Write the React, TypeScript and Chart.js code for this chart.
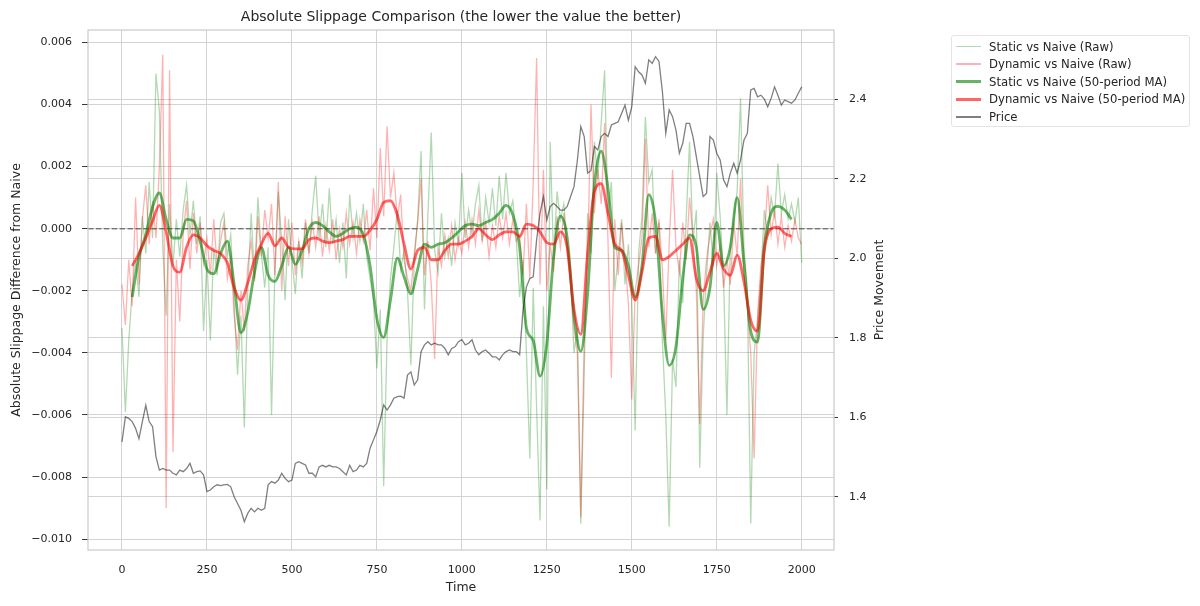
import { useEffect, useRef } from "react";
import { Chart, registerables, Plugin } from "chart.js";

Chart.register(...registerables);

// raw slippage differences, one value every 10 steps, in units of 1e-3
const RAW_STEP = 10;
const rawStatic = [
  -3.2, -5.9, -3.6, -2.0, -1.0, -2.2, 0.4, -0.8, 1.5, -0.3,
  5.0, 3.8, -0.6, -2.8, 0.8, -1.2, 0.3, -0.9, 0.6, 1.4,
  -0.2, 0.9, -0.5, 0.4, -3.3, -1.0, -3.6, -0.6, -1.5, 0.2,
  0.5, -0.9, -0.2, -2.4, -4.7, -2.8, -6.4, -2.0, 0.5, -1.6,
  1.0, -0.8, -1.9, -0.6, -6.0, -1.3, 1.2, -0.4, -2.3, 0.3,
  -1.0, -2.1, -0.4, -1.6, 0.2, -0.8, 0.6, 1.7, -0.3, 0.8,
  -0.6, 1.3, -0.5, 0.3, -1.1, 0.2, -1.6, 1.1, -0.3, 0.5,
  -0.4, 0.8, -0.9, -1.6, -2.3, -4.5, -2.6, -8.3, -3.5, -1.6,
  -0.6, 0.6, -1.3, -0.7, -2.0, -4.4, -1.0, 0.3, 2.5, -2.6,
  0.4, 3.1, -0.7, -1.4, 0.5, -0.9, -0.3, -1.2, 0.2, -0.5,
  1.8, -0.3, 0.6, -0.2, 0.8, 1.4, -0.4, 1.0, 0.2, 1.3,
  0.1, 1.7, 0.3, 1.8, 0.5, 0.9, -0.3, -2.2, -1.0, -4.0,
  -7.4, -1.9, -5.8, -9.4, -2.5, -8.4, 2.8, -1.0, 1.2, 0.3,
  0.8, -0.5, -1.5, -4.0, -3.2, -9.5, -4.7, 0.5, -0.8, 2.8,
  1.6, 3.4, 5.1, 0.4, 1.5, -2.0, -0.9, 0.3, -1.8, -0.5,
  -2.4, -6.5, -0.8, 0.4, 3.6, 1.5, 1.9, -0.8, 0.2, -3.6,
  -6.0, -9.6, -4.2, -5.1, -1.0, -2.4, 0.3, 2.8, -0.4, 0.6,
  -7.7, -3.5, -1.5, 0.2, -1.2, 1.8, 0.4, -1.6, -6.0, -0.5,
  0.3, 1.2, 4.2, -0.6, -2.0, -9.5, -4.0, -3.0, -1.5, 0.6,
  -0.2, 1.0, 0.4, 2.1, 0.5, 1.1, 0.3, 0.8, 0.2, 1.0,
  -1.1,
];
const rawDynamic = [
  -1.8, -3.1, -1.0, -2.5, 1.0, -1.8, 0.3, 1.4, -0.5, 0.9,
  -0.3, 2.0, 5.6, -9.0, 5.1, -7.2, -1.0, -3.0, -0.2, 0.9,
  -1.3, 0.5, -0.8, 0.2, -1.1, -0.3, -1.5, 0.3, -1.2, -0.4,
  0.2, -1.6, -0.9, -2.8, -3.9, -2.0, -3.3, -1.2, -0.4, -1.7,
  0.4, -0.9, 0.6, -0.3, 0.8, -1.5, 1.5, -2.0, 0.4, -1.2,
  0.2, -1.5, -0.4, -1.1, 0.3, -0.8, 0.2, -0.6, 0.4, -0.9,
  0.1, -0.7, 0.3, -1.0, 0.0, -0.6, 0.5, -0.5, 0.2, -0.8,
  0.3, -0.4, 0.6, -0.7, 1.3, -0.3, 2.6, 0.4, 3.3, 1.0,
  1.8, 0.3, 1.1, -1.0, -1.6, -2.0, -0.8, 0.2, 1.6, -1.5,
  -0.4, -1.8, -4.2, -0.6, -1.2, -0.2, -0.9, 0.1, -1.0, -0.3,
  -0.8, 0.2, -0.6, 0.3, -0.5, 0.6, -0.4, 0.2, -0.9, 0.1,
  -0.6, 0.4, -0.3, 0.5, -0.5, 0.3, -0.4, -0.2, -1.5, 0.8,
  -1.6, 1.5, 5.5, -1.8, 1.9, -2.0, -0.5, -1.4, 0.4, -0.6,
  0.5, -0.8, -1.8, -3.2, -4.0, -9.3, -3.5, -1.0, 4.0, 0.5,
  1.9, 0.8, 3.4, -0.4, -4.8, 0.3, -1.5, 0.2, -1.0, -2.4,
  -5.5, -2.0, -1.2, -0.3, 2.9, -0.6, 0.5, -0.8, 0.3, -1.3,
  -3.6, -0.5, 1.9, -0.6, -1.4, 0.2, -1.0, 1.0, -0.3, -2.0,
  -6.3, -2.3, -1.0, -0.2, 0.3, -1.2, -0.5, -1.9, -1.0, -1.8,
  0.2, -0.9, 1.6, -1.5, -2.5, -4.0, -7.4, -2.8, -1.2, -0.3,
  1.4, -0.2, 0.6, -0.5, 0.4, -0.6, 0.1, -0.4, 0.3, -0.3,
  -0.5,
];

// 50-period moving averages, read every 20 steps from t=30, units of 1e-3
const MA_START = 30;
const MA_STEP = 20;
const maStatic = [
  -2.2, -0.9, -0.2, 0.7, 1.15, 0.3, -0.3, -0.3, 0.3, 0.25,
  -0.4, -1.3, -1.45, -0.8, -0.4, -1.8, -3.35, -2.7, -1.4, -0.6,
  -1.5, -1.7, -1.2, -0.6, -1.15, -0.7, 0.0, 0.2, 0.1, -0.1,
  -0.25, -0.15, 0.0, 0.05, -0.2, -1.2, -2.9, -3.5, -2.3, -0.95,
  -1.55, -2.1, -1.3, -0.5, -0.6, -0.5, -0.45, -0.3, -0.1, 0.1,
  0.15, 0.1, 0.2, 0.3, 0.5, 0.75, 0.45, -0.6, -3.2, -3.6,
  -4.75, -3.7, -0.9, 0.4, -0.3, -2.8, -3.95, -2.1, 1.4, 2.5,
  1.3, -0.6, -0.7, -1.2, -2.2, -1.2, 1.1, 0.2, -2.75, -4.4,
  -3.8, -1.6, -0.2, -0.6, -2.6, -1.9, 0.2, -1.2, -0.6, 1.0,
  -1.1, -3.3, -3.65, -0.6, 0.5, 0.72, 0.6, 0.3,
];
const maDynamic = [
  -1.2, -0.8, -0.3, 0.25, 0.75, -0.1, -1.2, -1.4, -0.6, -0.2,
  -0.3, -0.55, -0.7, -0.8, -1.1, -1.9, -2.3, -1.75, -1.0, -0.5,
  -0.15, -0.55, -0.3, -0.6, -0.65, -0.65, -0.35, -0.3, -0.4, -0.45,
  -0.4, -0.35, -0.25, -0.25, -0.25, -0.05, 0.3, 0.85, 0.9, 0.45,
  -0.5, -1.3, -0.7, -0.6, -1.0, -1.0, -0.7, -0.5, -0.5, -0.4,
  -0.25, 0.0, -0.2, -0.35, -0.2, -0.1, -0.1, -0.25, 0.15, 0.1,
  -0.1, -0.45, -0.5, -0.1, -0.6, -2.6, -3.4, -0.8, 1.2, 1.45,
  0.5, -0.5, -0.7, -1.5, -2.3, -1.4, -0.3, -0.25, -1.0, -0.9,
  -0.7, -0.5, -0.3, -1.6, -2.0, -1.4, -0.8, -1.3, -1.5, -0.85,
  -1.7, -2.95, -3.3, -0.7, 0.0, 0.05, -0.15, -0.25,
];

// price, every 10 steps from t=0
const PRICE_STEP = 10;
const price = [
  1.538, 1.601, 1.597, 1.589, 1.572, 1.546, 1.589, 1.63, 1.589, 1.576,
  1.501, 1.467, 1.471, 1.467, 1.467, 1.459, 1.455, 1.467, 1.463, 1.471,
  1.484, 1.459, 1.463, 1.465, 1.455, 1.413, 1.417, 1.425, 1.43, 1.428,
  1.43, 1.431, 1.425, 1.4, 1.383, 1.366, 1.337, 1.358, 1.371, 1.362,
  1.371, 1.366, 1.371, 1.43, 1.438, 1.434, 1.442, 1.459, 1.446, 1.438,
  1.442, 1.484, 1.488, 1.484, 1.48, 1.459, 1.459, 1.45, 1.475, 1.479,
  1.475, 1.479, 1.475, 1.475, 1.471, 1.463, 1.455, 1.479, 1.463, 1.467,
  1.479, 1.475, 1.484, 1.522, 1.543, 1.564, 1.593, 1.631, 1.618, 1.631,
  1.648, 1.652, 1.653, 1.648, 1.706, 1.714, 1.681, 1.694, 1.765, 1.782,
  1.79, 1.782, 1.786, 1.782, 1.782, 1.773, 1.757, 1.773, 1.777, 1.79,
  1.795, 1.782, 1.786, 1.795, 1.769, 1.757, 1.765, 1.769, 1.761, 1.752,
  1.752, 1.744, 1.757, 1.765, 1.769, 1.765, 1.765, 1.757, 1.87, 1.928,
  1.949, 1.953, 2.046, 2.113, 2.155, 2.096, 2.13, 2.138, 2.13, 2.121,
  2.121, 2.13, 2.155, 2.18, 2.247, 2.331, 2.306, 2.214, 2.22, 2.281,
  2.272, 2.306, 2.314, 2.306, 2.335, 2.339, 2.343, 2.364, 2.385, 2.347,
  2.381, 2.482, 2.469, 2.461, 2.44, 2.499, 2.49, 2.507, 2.495, 2.42,
  2.314, 2.373, 2.356, 2.322, 2.264, 2.289, 2.339, 2.339, 2.306, 2.255,
  2.205, 2.155, 2.163, 2.306, 2.297, 2.264, 2.247, 2.197, 2.18, 2.214,
  2.239, 2.214, 2.247, 2.297, 2.314, 2.423, 2.427, 2.406, 2.41, 2.4,
  2.381, 2.402, 2.431, 2.41, 2.385, 2.398, 2.394, 2.39, 2.398, 2.415,
  2.431,
];

const timeTicks = [0, 250, 500, 750, 1000, 1250, 1500, 1750, 2000];
const slippageTicks = [-0.01, -0.008, -0.006, -0.004, -0.002, 0, 0.002, 0.004, 0.006];
const priceTicks = [1.4, 1.6, 1.8, 2.0, 2.2, 2.4];

const legendItems = [
  { label: "Static vs Naive (Raw)", color: "rgba(0,128,0,0.3)", width: 1.5 },
  { label: "Dynamic vs Naive (Raw)", color: "rgba(255,0,0,0.3)", width: 1.5 },
  { label: "Static vs Naive (50-period MA)", color: "rgba(0,128,0,0.6)", width: 3 },
  { label: "Dynamic vs Naive (50-period MA)", color: "rgba(255,0,0,0.6)", width: 3 },
  { label: "Price", color: "rgba(0,0,0,0.5)", width: 1.5 },
];

const FONT = "DejaVu Sans";
const TEXT = "#262626";
const GRID = "#d3d3d3";

const toPoints = (vals: number[], start: number, step: number, scale = 1) =>
  vals.map((v, i) => ({ x: start + i * step, y: v * scale }));

const decorations: Plugin<"line"> = {
  id: "decorations",
  beforeDatasetsDraw(chart) {
    // dashed zero line
    const { ctx, chartArea, scales } = chart;
    const y0 = scales.y.getPixelForValue(0);
    ctx.save();
    ctx.strokeStyle = "rgba(0,0,0,0.45)";
    ctx.lineWidth = 1.5;
    ctx.setLineDash([5.5, 2.4]);
    ctx.beginPath();
    ctx.moveTo(chartArea.left, y0);
    ctx.lineTo(chartArea.right, y0);
    ctx.stroke();
    ctx.restore();
  },
  afterDatasetsDraw(chart) {
    const { ctx, chartArea } = chart;
    ctx.save();
    ctx.strokeStyle = "#cccccc";
    ctx.lineWidth = 1.25;
    ctx.strokeRect(chartArea.left, chartArea.top, chartArea.width, chartArea.height);
    // right axis title, reads bottom to top like matplotlib
    ctx.translate(880, (chartArea.top + chartArea.bottom) / 2);
    ctx.rotate(-Math.PI / 2);
    ctx.fillStyle = TEXT;
    ctx.font = `12.5px "${FONT}"`;
    ctx.textAlign = "center";
    ctx.textBaseline = "middle";
    ctx.fillText("Price Movement", 0, 0);
    ctx.restore();
  },
};

export default function App() {
  const canvasRef = useRef<HTMLCanvasElement | null>(null);

  useEffect(() => {
    if (!canvasRef.current) return;
    const ctx = canvasRef.current.getContext("2d");
    if (!ctx) return;

    const chart = new Chart(ctx, {
      type: "line",
      data: {
        datasets: [
          {
            label: "Static vs Naive (Raw)",
            data: toPoints(rawStatic, 0, RAW_STEP, 1e-3),
            borderColor: "rgba(0,128,0,0.3)",
            borderWidth: 1.3,
            yAxisID: "y",
            order: 4,
          },
          {
            label: "Dynamic vs Naive (Raw)",
            data: toPoints(rawDynamic, 0, RAW_STEP, 1e-3),
            borderColor: "rgba(255,0,0,0.3)",
            borderWidth: 1.3,
            yAxisID: "y",
            order: 3,
          },
          {
            label: "Static vs Naive (50-period MA)",
            data: toPoints(maStatic, MA_START, MA_STEP, 1e-3),
            borderColor: "rgba(0,128,0,0.6)",
            borderWidth: 2.8,
            cubicInterpolationMode: "monotone",
            yAxisID: "y",
            order: 2,
          },
          {
            label: "Dynamic vs Naive (50-period MA)",
            data: toPoints(maDynamic, MA_START, MA_STEP, 1e-3),
            borderColor: "rgba(255,0,0,0.6)",
            borderWidth: 2.8,
            cubicInterpolationMode: "monotone",
            yAxisID: "y",
            order: 1,
          },
          {
            label: "Price",
            data: toPoints(price, 0, PRICE_STEP),
            borderColor: "rgba(0,0,0,0.5)",
            borderWidth: 1.3,
            yAxisID: "y2",
            order: 0,
          },
        ],
      },
      options: {
        animation: false,
        responsive: false,
        elements: { point: { radius: 0 }, line: { tension: 0 } },
        layout: { padding: { left: 0, right: 306, top: 0, bottom: 6 } },
        plugins: {
          legend: { display: false },
          tooltip: { enabled: false },
          title: {
            display: true,
            fullSize: false,
            text: "Absolute Slippage Comparison (the lower the value the better)",
            color: TEXT,
            font: { family: FONT, size: 14, weight: "normal" },
            padding: { top: 8.5, bottom: 4.7 },
          },
        },
        scales: {
          x: {
            type: "linear",
            min: -100,
            max: 2095,
            afterFit: (s) => {
              s.height = 50;
            },
            afterBuildTicks: (s) => {
              s.ticks = timeTicks.map((value) => ({ value }));
            },
            grid: { color: GRID, lineWidth: 1, drawTicks: false },
            border: { display: false },
            ticks: {
              padding: 14,
              color: TEXT,
              font: { family: FONT, size: 11 },
              maxRotation: 0,
              callback: (v) => String(v),
            },
            title: {
              display: true,
              text: "Time",
              color: TEXT,
              font: { family: FONT, size: 12.5 },
              padding: { top: 0, bottom: 4.5 },
            },
          },
          y: {
            type: "linear",
            position: "left",
            min: -0.01035,
            max: 0.0064,
            afterFit: (s) => {
              s.width = 88;
            },
            afterBuildTicks: (s) => {
              s.ticks = slippageTicks.map((value) => ({ value }));
            },
            grid: { color: GRID, lineWidth: 1, tickLength: 6, tickColor: "#3a3a3a" },
            border: { display: false },
            ticks: {
              padding: 10,
              color: TEXT,
              font: { family: FONT, size: 11 },
              callback: (v) => {
                const n = Number(v);
                const s = Math.abs(n).toFixed(3);
                return n < -1e-9 ? "\u2212" + s : s;
              },
            },
            title: {
              display: true,
              text: "Absolute Slippage Difference from Naive",
              color: TEXT,
              font: { family: FONT, size: 12.5 },
              padding: { top: 9.5, bottom: 0 },
            },
          },
          y2: {
            type: "linear",
            position: "right",
            min: 1.266,
            max: 2.574,
            afterFit: (s) => {
              s.width = 60;
            },
            afterBuildTicks: (s) => {
              s.ticks = priceTicks.map((value) => ({ value }));
            },
            grid: { color: GRID, lineWidth: 1, tickLength: 4, tickColor: "#3a3a3a" },
            border: { display: false },
            ticks: {
              padding: 11,
              color: TEXT,
              font: { family: FONT, size: 11 },
              callback: (v) => Number(v).toFixed(1),
            },
          },
        },
      },
      plugins: [decorations],
    });

    return () => {
      chart.destroy();
    };
  }, []);

  return (
    <div
      style={{
        position: "absolute",
        left: 0,
        top: 0,
        width: 1200,
        height: 606,
        background: "#fff",
        fontFamily: FONT,
      }}
    >
      <canvas ref={canvasRef} width={1200} height={606} style={{ display: "block" }} />
      <div
        style={{
          position: "absolute",
          left: 951,
          top: 35,
          width: 239,
          height: 92,
          border: "1px solid #e3e3e3",
          borderRadius: 3,
          background: "#fff",
          boxSizing: "border-box",
        }}
      >
        {legendItems.map((item, i) => (
          <div
            key={item.label}
            style={{
              position: "absolute",
              left: 0,
              top: 10.5 + i * 17.6 - 8,
              height: 16,
              display: "flex",
              alignItems: "center",
              whiteSpace: "nowrap",
            }}
          >
            <span
              style={{
                display: "inline-block",
                marginLeft: 4,
                width: 25,
                height: item.width,
                background: item.color,
              }}
            />
            <span style={{ marginLeft: 8, fontSize: 11.7, color: TEXT }}>{item.label}</span>
          </div>
        ))}
      </div>
    </div>
  );
}
